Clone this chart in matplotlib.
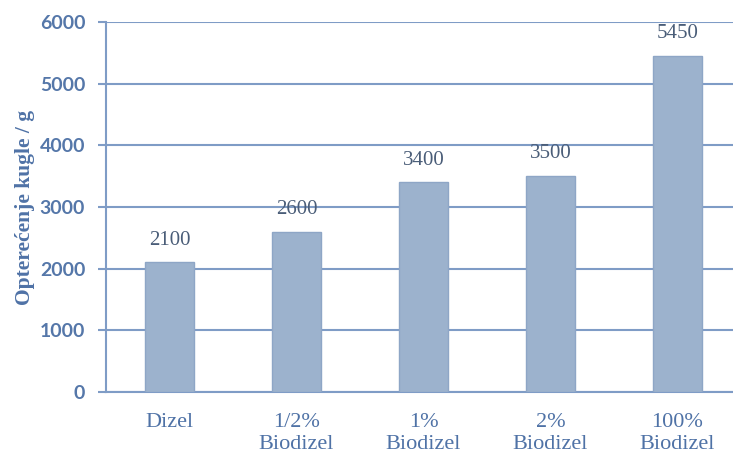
import matplotlib
matplotlib.use('Agg')
import matplotlib.pyplot as plt
import numpy as np

categories = ['Dizel', '1/2%\nBiodizel', '1%\nBiodizel', '2%\nBiodizel', '100%\nBiodizel']
values = [2100, 2600, 3400, 3500, 5450]
yticks = [0, 1000, 2000, 3000, 4000, 5000, 6000]

blue = '#4f72a6'
line_col = '#7f9cc6'

fig = plt.figure(figsize=(7.33, 4.55), dpi=100)
ax = fig.add_axes([0.1446, 0.1385, 0.8554, 0.8131])

x = np.arange(len(values))
ax.bar(x, values, width=0.39, color='#9cb2cd', edgecolor='#8ea6c6', linewidth=1, zorder=3)

for xi, v in zip(x, values):
    ax.text(xi, v + 360, str(v), ha='center', va='center', fontsize=15,
            family='Liberation Serif', color='#4a5d78', zorder=4)

ax.set_xlim(-0.5, 4.437)
ax.set_ylim(0, 6000)
ax.set_yticks(yticks)
ax.set_yticklabels([str(t) for t in yticks], fontsize=14, fontweight='bold',
                   family='Lato', color='#5577a9')
ax.set_xticks(x)
ax.set_xticklabels(categories, fontsize=16, family='Liberation Serif', color=blue,
                   linespacing=1.2)
ax.tick_params(axis='x', length=0, pad=15)
ax.tick_params(axis='y', length=6, color=line_col, width=1.5, pad=9)

ax.grid(axis='y', color=line_col, linewidth=1.5, zorder=0)
for s in ['top', 'right']:
    ax.spines[s].set_visible(False)
ax.spines['left'].set_color(line_col)
ax.spines['left'].set_linewidth(1.5)
ax.spines['bottom'].set_color(line_col)
ax.spines['bottom'].set_linewidth(1.5)

ax.set_ylabel('Opterećenje kugle / g', fontsize=15.5, fontweight='bold',
              family='Liberation Serif', color=blue, labelpad=3)

fig.savefig('out.png', dpi=100)
